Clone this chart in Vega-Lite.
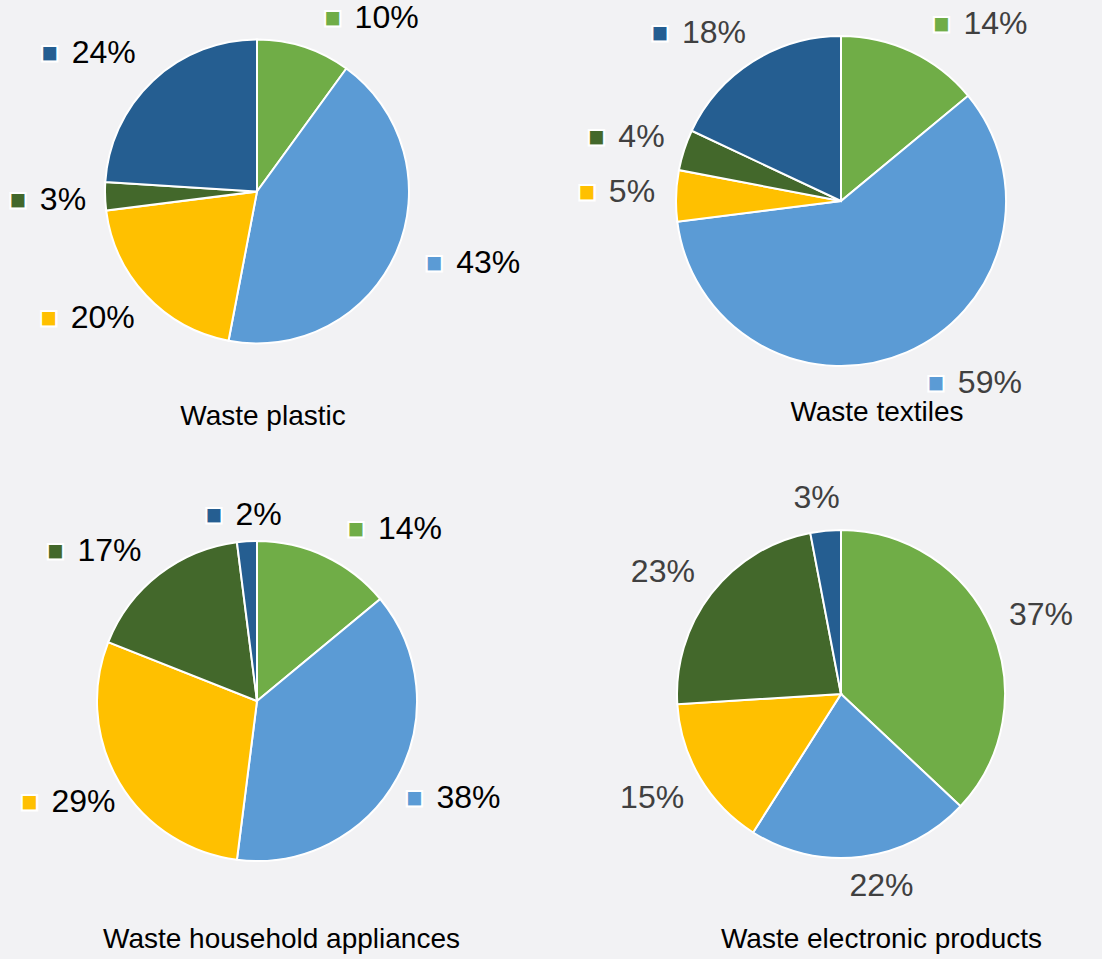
{
  "$schema": "https://vega.github.io/schema/vega-lite/v6.json",
  "background": "#f2f2f4",
  "padding": 0,
  "columns": 2,
  "spacing": {"row": 41, "column": 66},
  "align": "each",
  "bounds": "flush",
  "config": {
    "view": {"stroke": null},
    "title": {"font": "Liberation Sans", "fontSize": 28, "fontWeight": "normal", "color": "#000000", "orient": "bottom", "frame": "group", "anchor": "middle"},
    "text": {"font": "Liberation Sans", "fontSize": 32, "baseline": "middle"}
  },
  "concat": [
    {
      "width": 514,
      "height": 383,
      "title": {"text": "Waste plastic", "offset": 20, "dx": 6},
      "data": {"values": [
        {"category": "Category 1", "share": 0.10},
        {"category": "Category 2", "share": 0.43},
        {"category": "Category 3", "share": 0.20},
        {"category": "Category 4", "share": 0.03},
        {"category": "Category 5", "share": 0.24}
      ]},
      "encoding": {
        "theta": {"field": "share", "type": "quantitative", "stack": true},
        "order": {"field": "category", "type": "ordinal"}
      },
      "layer": [
        {"mark": {"type": "arc", "radius": 152, "stroke": "#ffffff", "strokeWidth": 2},
         "encoding": {"color": {"field": "category", "type": "nominal", "legend": null, "scale": {"domain": ["Category 1", "Category 2", "Category 3", "Category 4", "Category 5"], "range": ["#70AD47", "#5B9BD5", "#FFC000", "#43682B", "#255E91"]}}}},
        {"mark": {"type": "text", "radius": 180, "align": "left", "dx": 42, "dy": -2, "fill": "#000000"},
         "encoding": {"text": {"condition": {"test": "(datum.share_start + datum.share_end) > 0.06 && (datum.share_start + datum.share_end) < 0.5", "field": "share", "type": "quantitative", "format": ".0%"}, "value": ""}}},
        {"mark": {"type": "text", "radius": 180, "align": "left", "dx": 34, "dy": 0, "fill": "#000000"},
         "encoding": {"text": {"condition": {"test": "(datum.share_start + datum.share_end) >= 0.5 && (datum.share_start + datum.share_end) < 0.94", "field": "share", "type": "quantitative", "format": ".0%"}, "value": ""}}},
        {"mark": {"type": "text", "radius": 180, "align": "right", "dx": 9, "dy": 3, "fill": "#000000"},
         "encoding": {"text": {"condition": {"test": "(datum.share_start + datum.share_end) > 1.06 && (datum.share_start + datum.share_end) < 1.5", "field": "share", "type": "quantitative", "format": ".0%"}, "value": ""}}},
        {"mark": {"type": "text", "radius": 180, "align": "right", "dx": 2, "dy": -7, "fill": "#000000"},
         "encoding": {
           "angle": {"condition": {"test": "(datum.share_start + datum.share_end) >= 1.5 && (datum.share_start + datum.share_end) < 1.94", "value": 0}, "value": 180},
           "text": {"condition": {"test": "(datum.share_start + datum.share_end) >= 1.5 && (datum.share_start + datum.share_end) < 1.94", "field": "share", "type": "quantitative", "format": ".0%"}, "value": ""}}},
        {"mark": {"type": "text", "radius": 180, "align": "left", "dx": -9.6, "fill": "#000000"},
         "encoding": {"text": {"condition": {"test": "(datum.share_start + datum.share_end) <= 0.06 || (datum.share_start + datum.share_end) >= 1.94 || ((datum.share_start + datum.share_end) >= 0.94 && (datum.share_start + datum.share_end) <= 1.06)", "field": "share", "type": "quantitative", "format": ".0%"}, "value": ""}}},
        {"mark": {"type": "text", "radius": 180, "align": "center", "dx": 20, "dy": -2, "font": "DejaVu Sans", "fontSize": 20, "stroke": "#ffffff", "strokeWidth": 2},
         "encoding": {"color": {"field": "category", "type": "nominal", "legend": null}, "text": {"condition": {"test": "(datum.share_start + datum.share_end) > 0.06 && (datum.share_start + datum.share_end) < 0.5", "value": "■"}, "value": ""}}},
        {"mark": {"type": "text", "radius": 180, "align": "center", "dx": 12, "dy": 0, "font": "DejaVu Sans", "fontSize": 20, "stroke": "#ffffff", "strokeWidth": 2},
         "encoding": {"color": {"field": "category", "type": "nominal", "legend": null}, "text": {"condition": {"test": "(datum.share_start + datum.share_end) >= 0.5 && (datum.share_start + datum.share_end) < 0.94", "value": "■"}, "value": ""}}},
        {"mark": {"type": "text", "radius": 180, "align": "center", "dx": -77, "dy": 3, "font": "DejaVu Sans", "fontSize": 20, "stroke": "#ffffff", "strokeWidth": 2},
         "encoding": {"color": {"field": "category", "type": "nominal", "legend": null},
           "angle": {"condition": {"test": "(datum.share_start + datum.share_end) > 1.06 && (datum.share_start + datum.share_end) < 1.5 && datum.share >= 0.095", "value": 0}, "value": 180},
           "text": {"condition": {"test": "(datum.share_start + datum.share_end) > 1.06 && (datum.share_start + datum.share_end) < 1.5 && datum.share >= 0.095", "value": "■"}, "value": ""}}},
        {"mark": {"type": "text", "radius": 180, "align": "center", "dx": -59.2, "dy": 3, "font": "DejaVu Sans", "fontSize": 20, "stroke": "#ffffff", "strokeWidth": 2},
         "encoding": {"color": {"field": "category", "type": "nominal", "legend": null},
           "angle": {"condition": {"test": "(datum.share_start + datum.share_end) > 1.06 && (datum.share_start + datum.share_end) < 1.5 && datum.share < 0.095", "value": 0}, "value": 180},
           "text": {"condition": {"test": "(datum.share_start + datum.share_end) > 1.06 && (datum.share_start + datum.share_end) < 1.5 && datum.share < 0.095", "value": "■"}, "value": ""}}},
        {"mark": {"type": "text", "radius": 180, "align": "center", "dx": -84, "dy": -7, "font": "DejaVu Sans", "fontSize": 20, "stroke": "#ffffff", "strokeWidth": 2},
         "encoding": {"color": {"field": "category", "type": "nominal", "legend": null},
           "angle": {"condition": {"test": "(datum.share_start + datum.share_end) >= 1.5 && (datum.share_start + datum.share_end) < 1.94 && datum.share >= 0.095", "value": 0}, "value": 180},
           "text": {"condition": {"test": "(datum.share_start + datum.share_end) >= 1.5 && (datum.share_start + datum.share_end) < 1.94 && datum.share >= 0.095", "value": "■"}, "value": ""}}},
        {"mark": {"type": "text", "radius": 180, "align": "center", "dx": -66.2, "dy": -7, "font": "DejaVu Sans", "fontSize": 20, "stroke": "#ffffff", "strokeWidth": 2},
         "encoding": {"color": {"field": "category", "type": "nominal", "legend": null},
           "angle": {"condition": {"test": "(datum.share_start + datum.share_end) >= 1.5 && (datum.share_start + datum.share_end) < 1.94 && datum.share < 0.095", "value": 0}, "value": 180},
           "text": {"condition": {"test": "(datum.share_start + datum.share_end) >= 1.5 && (datum.share_start + datum.share_end) < 1.94 && datum.share < 0.095", "value": "■"}, "value": ""}}},
        {"mark": {"type": "text", "radius": 180, "align": "center", "dx": -31.1, "font": "DejaVu Sans", "fontSize": 20, "stroke": "#ffffff", "strokeWidth": 2},
         "encoding": {"color": {"field": "category", "type": "nominal", "legend": null}, "text": {"condition": {"test": "(datum.share_start + datum.share_end) <= 0.06 || (datum.share_start + datum.share_end) >= 1.94 || ((datum.share_start + datum.share_end) >= 0.94 && (datum.share_start + datum.share_end) <= 1.06)", "value": "■"}, "value": ""}}}
      ]
    },
    {
      "width": 522,
      "height": 402,
      "title": {"text": "Waste textiles", "offset": -3, "dx": 36},
      "data": {"values": [
        {"category": "Category 1", "share": 0.14},
        {"category": "Category 2", "share": 0.59},
        {"category": "Category 3", "share": 0.05},
        {"category": "Category 4", "share": 0.04},
        {"category": "Category 5", "share": 0.18}
      ]},
      "encoding": {
        "theta": {"field": "share", "type": "quantitative", "stack": true},
        "order": {"field": "category", "type": "ordinal"}
      },
      "layer": [
        {"mark": {"type": "arc", "radius": 165, "stroke": "#ffffff", "strokeWidth": 2},
         "encoding": {"color": {"field": "category", "type": "nominal", "legend": null, "scale": {"domain": ["Category 1", "Category 2", "Category 3", "Category 4", "Category 5"], "range": ["#70AD47", "#5B9BD5", "#FFC000", "#43682B", "#255E91"]}}}},
        {"mark": {"type": "text", "radius": 196, "align": "left", "dx": 39, "dy": 0, "fill": "#404040"},
         "encoding": {"text": {"condition": {"test": "(datum.share_start + datum.share_end) > 0.06 && (datum.share_start + datum.share_end) < 0.5", "field": "share", "type": "quantitative", "format": ".0%"}, "value": ""}}},
        {"mark": {"type": "text", "radius": 196, "align": "left", "dx": 39, "dy": 2, "fill": "#404040"},
         "encoding": {"text": {"condition": {"test": "(datum.share_start + datum.share_end) >= 0.5 && (datum.share_start + datum.share_end) < 0.94", "field": "share", "type": "quantitative", "format": ".0%"}, "value": ""}}},
        {"mark": {"type": "text", "radius": 196, "align": "right", "dx": 12, "dy": 4, "fill": "#404040"},
         "encoding": {"text": {"condition": {"test": "(datum.share_start + datum.share_end) > 1.06 && (datum.share_start + datum.share_end) < 1.5", "field": "share", "type": "quantitative", "format": ".0%"}, "value": ""}}},
        {"mark": {"type": "text", "radius": 196, "align": "right", "dx": 10, "dy": -3, "fill": "#404040"},
         "encoding": {
           "angle": {"condition": {"test": "(datum.share_start + datum.share_end) >= 1.5 && (datum.share_start + datum.share_end) < 1.94", "value": 0}, "value": 180},
           "text": {"condition": {"test": "(datum.share_start + datum.share_end) >= 1.5 && (datum.share_start + datum.share_end) < 1.94", "field": "share", "type": "quantitative", "format": ".0%"}, "value": ""}}},
        {"mark": {"type": "text", "radius": 196, "align": "left", "dx": -9.6, "fill": "#404040"},
         "encoding": {"text": {"condition": {"test": "(datum.share_start + datum.share_end) <= 0.06 || (datum.share_start + datum.share_end) >= 1.94 || ((datum.share_start + datum.share_end) >= 0.94 && (datum.share_start + datum.share_end) <= 1.06)", "field": "share", "type": "quantitative", "format": ".0%"}, "value": ""}}},
        {"mark": {"type": "text", "radius": 196, "align": "center", "dx": 17, "dy": 0, "font": "DejaVu Sans", "fontSize": 20, "stroke": "#ffffff", "strokeWidth": 2},
         "encoding": {"color": {"field": "category", "type": "nominal", "legend": null}, "text": {"condition": {"test": "(datum.share_start + datum.share_end) > 0.06 && (datum.share_start + datum.share_end) < 0.5", "value": "■"}, "value": ""}}},
        {"mark": {"type": "text", "radius": 196, "align": "center", "dx": 17, "dy": 2, "font": "DejaVu Sans", "fontSize": 20, "stroke": "#ffffff", "strokeWidth": 2},
         "encoding": {"color": {"field": "category", "type": "nominal", "legend": null}, "text": {"condition": {"test": "(datum.share_start + datum.share_end) >= 0.5 && (datum.share_start + datum.share_end) < 0.94", "value": "■"}, "value": ""}}},
        {"mark": {"type": "text", "radius": 196, "align": "center", "dx": -74, "dy": 4, "font": "DejaVu Sans", "fontSize": 20, "stroke": "#ffffff", "strokeWidth": 2},
         "encoding": {"color": {"field": "category", "type": "nominal", "legend": null},
           "angle": {"condition": {"test": "(datum.share_start + datum.share_end) > 1.06 && (datum.share_start + datum.share_end) < 1.5 && datum.share >= 0.095", "value": 0}, "value": 180},
           "text": {"condition": {"test": "(datum.share_start + datum.share_end) > 1.06 && (datum.share_start + datum.share_end) < 1.5 && datum.share >= 0.095", "value": "■"}, "value": ""}}},
        {"mark": {"type": "text", "radius": 196, "align": "center", "dx": -56.2, "dy": 4, "font": "DejaVu Sans", "fontSize": 20, "stroke": "#ffffff", "strokeWidth": 2},
         "encoding": {"color": {"field": "category", "type": "nominal", "legend": null},
           "angle": {"condition": {"test": "(datum.share_start + datum.share_end) > 1.06 && (datum.share_start + datum.share_end) < 1.5 && datum.share < 0.095", "value": 0}, "value": 180},
           "text": {"condition": {"test": "(datum.share_start + datum.share_end) > 1.06 && (datum.share_start + datum.share_end) < 1.5 && datum.share < 0.095", "value": "■"}, "value": ""}}},
        {"mark": {"type": "text", "radius": 196, "align": "center", "dx": -76, "dy": -3, "font": "DejaVu Sans", "fontSize": 20, "stroke": "#ffffff", "strokeWidth": 2},
         "encoding": {"color": {"field": "category", "type": "nominal", "legend": null},
           "angle": {"condition": {"test": "(datum.share_start + datum.share_end) >= 1.5 && (datum.share_start + datum.share_end) < 1.94 && datum.share >= 0.095", "value": 0}, "value": 180},
           "text": {"condition": {"test": "(datum.share_start + datum.share_end) >= 1.5 && (datum.share_start + datum.share_end) < 1.94 && datum.share >= 0.095", "value": "■"}, "value": ""}}},
        {"mark": {"type": "text", "radius": 196, "align": "center", "dx": -58.2, "dy": -3, "font": "DejaVu Sans", "fontSize": 20, "stroke": "#ffffff", "strokeWidth": 2},
         "encoding": {"color": {"field": "category", "type": "nominal", "legend": null},
           "angle": {"condition": {"test": "(datum.share_start + datum.share_end) >= 1.5 && (datum.share_start + datum.share_end) < 1.94 && datum.share < 0.095", "value": 0}, "value": 180},
           "text": {"condition": {"test": "(datum.share_start + datum.share_end) >= 1.5 && (datum.share_start + datum.share_end) < 1.94 && datum.share < 0.095", "value": "■"}, "value": ""}}},
        {"mark": {"type": "text", "radius": 196, "align": "center", "dx": -31.1, "font": "DejaVu Sans", "fontSize": 20, "stroke": "#ffffff", "strokeWidth": 2},
         "encoding": {"color": {"field": "category", "type": "nominal", "legend": null}, "text": {"condition": {"test": "(datum.share_start + datum.share_end) <= 0.06 || (datum.share_start + datum.share_end) >= 1.94 || ((datum.share_start + datum.share_end) >= 0.94 && (datum.share_start + datum.share_end) <= 1.06)", "value": "■"}, "value": ""}}}
      ]
    },
    {
      "width": 514,
      "height": 516,
      "title": {"text": "Waste household appliances", "offset": -33, "dx": 24.5},
      "data": {"values": [
        {"category": "Category 1", "share": 0.14},
        {"category": "Category 2", "share": 0.38},
        {"category": "Category 3", "share": 0.29},
        {"category": "Category 4", "share": 0.17},
        {"category": "Category 5", "share": 0.02}
      ]},
      "encoding": {
        "theta": {"field": "share", "type": "quantitative", "stack": true},
        "order": {"field": "category", "type": "ordinal"}
      },
      "layer": [
        {"mark": {"type": "arc", "radius": 160, "stroke": "#ffffff", "strokeWidth": 2},
         "encoding": {"color": {"field": "category", "type": "nominal", "legend": null, "scale": {"domain": ["Category 1", "Category 2", "Category 3", "Category 4", "Category 5"], "range": ["#70AD47", "#5B9BD5", "#FFC000", "#43682B", "#255E91"]}}}},
        {"mark": {"type": "text", "radius": 190, "align": "left", "dx": 40, "dy": 0, "fill": "#000000"},
         "encoding": {"text": {"condition": {"test": "(datum.share_start + datum.share_end) > 0.06 && (datum.share_start + datum.share_end) < 0.5", "field": "share", "type": "quantitative", "format": ".0%"}, "value": ""}}},
        {"mark": {"type": "text", "radius": 190, "align": "left", "dx": 13, "dy": 5, "fill": "#000000"},
         "encoding": {"text": {"condition": {"test": "(datum.share_start + datum.share_end) >= 0.5 && (datum.share_start + datum.share_end) < 0.94", "field": "share", "type": "quantitative", "format": ".0%"}, "value": ""}}},
        {"mark": {"type": "text", "radius": 190, "align": "right", "dx": 22, "dy": 4, "fill": "#000000"},
         "encoding": {"text": {"condition": {"test": "(datum.share_start + datum.share_end) > 1.06 && (datum.share_start + datum.share_end) < 1.5", "field": "share", "type": "quantitative", "format": ".0%"}, "value": ""}}},
        {"mark": {"type": "text", "radius": 190, "align": "right", "dx": 1, "dy": 0, "fill": "#000000"},
         "encoding": {"text": {"condition": {"test": "(datum.share_start + datum.share_end) >= 1.5 && (datum.share_start + datum.share_end) < 1.94", "field": "share", "type": "quantitative", "format": ".0%"}, "value": ""}}},
        {"mark": {"type": "text", "radius": 190, "align": "left", "dx": -9.6, "dy": 4, "fill": "#000000"},
         "encoding": {"text": {"condition": {"test": "(datum.share_start + datum.share_end) <= 0.06 || (datum.share_start + datum.share_end) >= 1.94 || ((datum.share_start + datum.share_end) >= 0.94 && (datum.share_start + datum.share_end) <= 1.06)", "field": "share", "type": "quantitative", "format": ".0%"}, "value": ""}}},
        {"mark": {"type": "text", "radius": 190, "align": "center", "dx": 18, "dy": 0, "font": "DejaVu Sans", "fontSize": 20, "stroke": "#ffffff", "strokeWidth": 2},
         "encoding": {"color": {"field": "category", "type": "nominal", "legend": null}, "text": {"condition": {"test": "(datum.share_start + datum.share_end) > 0.06 && (datum.share_start + datum.share_end) < 0.5", "value": "■"}, "value": ""}}},
        {"mark": {"type": "text", "radius": 190, "align": "center", "dx": -9, "dy": 5, "font": "DejaVu Sans", "fontSize": 20, "stroke": "#ffffff", "strokeWidth": 2},
         "encoding": {"color": {"field": "category", "type": "nominal", "legend": null}, "text": {"condition": {"test": "(datum.share_start + datum.share_end) >= 0.5 && (datum.share_start + datum.share_end) < 0.94", "value": "■"}, "value": ""}}},
        {"mark": {"type": "text", "radius": 190, "align": "center", "dx": -64, "dy": 4, "font": "DejaVu Sans", "fontSize": 20, "stroke": "#ffffff", "strokeWidth": 2},
         "encoding": {"color": {"field": "category", "type": "nominal", "legend": null},
           "angle": {"condition": {"test": "(datum.share_start + datum.share_end) > 1.06 && (datum.share_start + datum.share_end) < 1.5 && datum.share >= 0.095", "value": 0}, "value": 180},
           "text": {"condition": {"test": "(datum.share_start + datum.share_end) > 1.06 && (datum.share_start + datum.share_end) < 1.5 && datum.share >= 0.095", "value": "■"}, "value": ""}}},
        {"mark": {"type": "text", "radius": 190, "align": "center", "dx": -46.2, "dy": 4, "font": "DejaVu Sans", "fontSize": 20, "stroke": "#ffffff", "strokeWidth": 2},
         "encoding": {"color": {"field": "category", "type": "nominal", "legend": null},
           "angle": {"condition": {"test": "(datum.share_start + datum.share_end) > 1.06 && (datum.share_start + datum.share_end) < 1.5 && datum.share < 0.095", "value": 0}, "value": 180},
           "text": {"condition": {"test": "(datum.share_start + datum.share_end) > 1.06 && (datum.share_start + datum.share_end) < 1.5 && datum.share < 0.095", "value": "■"}, "value": ""}}},
        {"mark": {"type": "text", "radius": 190, "align": "center", "dx": -85, "dy": 0, "font": "DejaVu Sans", "fontSize": 20, "stroke": "#ffffff", "strokeWidth": 2},
         "encoding": {"color": {"field": "category", "type": "nominal", "legend": null},
           "angle": {"condition": {"test": "(datum.share_start + datum.share_end) >= 1.5 && (datum.share_start + datum.share_end) < 1.94 && datum.share >= 0.095", "value": 0}, "value": 180},
           "text": {"condition": {"test": "(datum.share_start + datum.share_end) >= 1.5 && (datum.share_start + datum.share_end) < 1.94 && datum.share >= 0.095", "value": "■"}, "value": ""}}},
        {"mark": {"type": "text", "radius": 190, "align": "center", "dx": -67.2, "dy": 0, "font": "DejaVu Sans", "fontSize": 20, "stroke": "#ffffff", "strokeWidth": 2},
         "encoding": {"color": {"field": "category", "type": "nominal", "legend": null},
           "angle": {"condition": {"test": "(datum.share_start + datum.share_end) >= 1.5 && (datum.share_start + datum.share_end) < 1.94 && datum.share < 0.095", "value": 0}, "value": 180},
           "text": {"condition": {"test": "(datum.share_start + datum.share_end) >= 1.5 && (datum.share_start + datum.share_end) < 1.94 && datum.share < 0.095", "value": "■"}, "value": ""}}},
        {"mark": {"type": "text", "radius": 190, "align": "center", "dx": -31.1, "dy": 4, "font": "DejaVu Sans", "fontSize": 20, "stroke": "#ffffff", "strokeWidth": 2},
         "encoding": {"color": {"field": "category", "type": "nominal", "legend": null}, "text": {"condition": {"test": "(datum.share_start + datum.share_end) <= 0.06 || (datum.share_start + datum.share_end) >= 1.94 || ((datum.share_start + datum.share_end) >= 0.94 && (datum.share_start + datum.share_end) <= 1.06)", "value": "■"}, "value": ""}}}
      ]
    },
    {
      "width": 522,
      "height": 502,
      "title": {"text": "Waste electronic products", "offset": -19, "dx": 40.5},
      "data": {"values": [
        {"category": "Category 1", "share": 0.37},
        {"category": "Category 2", "share": 0.22},
        {"category": "Category 3", "share": 0.15},
        {"category": "Category 4", "share": 0.23},
        {"category": "Category 5", "share": 0.03}
      ]},
      "encoding": {
        "theta": {"field": "share", "type": "quantitative", "stack": true},
        "order": {"field": "category", "type": "ordinal"}
      },
      "layer": [
        {"mark": {"type": "arc", "radius": 164, "stroke": "#ffffff", "strokeWidth": 2},
         "encoding": {"color": {"field": "category", "type": "nominal", "legend": null, "scale": {"domain": ["Category 1", "Category 2", "Category 3", "Category 4", "Category 5"], "range": ["#70AD47", "#5B9BD5", "#FFC000", "#43682B", "#255E91"]}}}},
        {"mark": {"type": "text", "radius": 195, "align": "left", "dx": -11, "dy": -2, "fill": "#404040"},
         "encoding": {"text": {"condition": {"test": "(datum.share_start + datum.share_end) > 0.06 && (datum.share_start + datum.share_end) < 0.94", "field": "share", "type": "quantitative", "format": ".0%"}, "value": ""}}},
        {"mark": {"type": "text", "radius": 195, "align": "right", "dx": 11, "dy": 5, "fill": "#404040"},
         "encoding": {"text": {"condition": {"test": "(datum.share_start + datum.share_end) > 1.06 && (datum.share_start + datum.share_end) < 1.5", "field": "share", "type": "quantitative", "format": ".0%"}, "value": ""}}},
        {"mark": {"type": "text", "radius": 195, "align": "right", "dx": 8, "dy": -2, "fill": "#404040"},
         "encoding": {"text": {"condition": {"test": "(datum.share_start + datum.share_end) >= 1.5 && (datum.share_start + datum.share_end) < 1.94", "field": "share", "type": "quantitative", "format": ".0%"}, "value": ""}}},
        {"mark": {"type": "text", "radius": 195, "align": "center", "dx": -6, "dy": -2, "fill": "#404040"},
         "encoding": {"text": {"condition": {"test": "(datum.share_start + datum.share_end) <= 0.06 || (datum.share_start + datum.share_end) >= 1.94", "field": "share", "type": "quantitative", "format": ".0%"}, "value": ""}}},
        {"mark": {"type": "text", "radius": 195, "align": "center", "dx": 16, "dy": -1, "fill": "#404040"},
         "encoding": {"text": {"condition": {"test": "(datum.share_start + datum.share_end) >= 0.94 && (datum.share_start + datum.share_end) <= 1.06", "field": "share", "type": "quantitative", "format": ".0%"}, "value": ""}}}
      ]
    }
  ]
}
